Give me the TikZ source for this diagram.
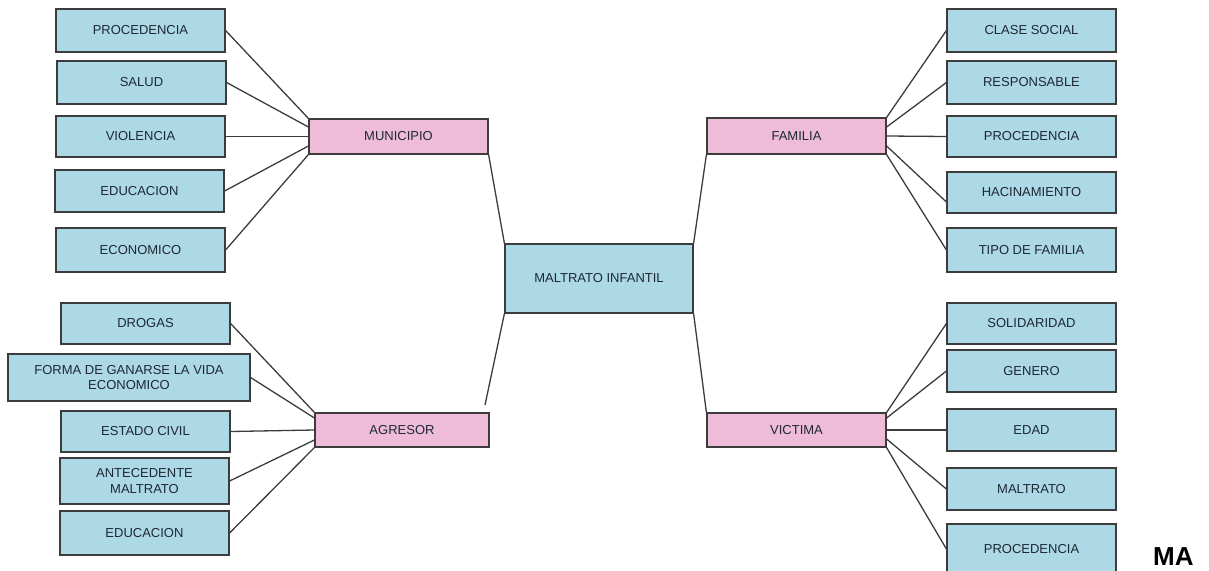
\documentclass[tikz,border=0pt]{standalone}
\usepackage{fontspec}
\setmainfont{Liberation Sans}
\definecolor{boxblue}{RGB}{173,216,230}
\definecolor{boxpink}{RGB}{238,187,216}
\definecolor{edge}{RGB}{60,60,60}
\definecolor{txt}{RGB}{30,40,52}
\tikzset{
  base/.style={draw=edge, line width=1.2pt, inner sep=0pt, align=center, text=txt,
    font=\fontsize{13}{15.5}\selectfont},
  bluebox/.style={base, fill=boxblue},
  pinkbox/.style={base, fill=boxpink},
  link/.style={draw=edge, line width=1.3pt},
}
\begin{document}
\begin{tikzpicture}[x=1pt,y=-1pt]
\useasboundingbox (0,0) rectangle (1209,570);
% left top
\node[bluebox, minimum width=169pt, minimum height=43pt] (lproc) at (140.5,30.5) {PROCEDENCIA};
\node[bluebox, minimum width=169pt, minimum height=43pt] (lsalud) at (141.5,82.5) {SALUD};
\node[bluebox, minimum width=169pt, minimum height=41pt] (lviol) at (140.5,136.5) {VIOLENCIA};
\node[bluebox, minimum width=169pt, minimum height=42pt] (ledu) at (139.5,191) {EDUCACION};
\node[bluebox, minimum width=169pt, minimum height=44pt] (lecon) at (140.5,250) {ECONOMICO};
\node[pinkbox, minimum width=179pt, minimum height=35pt] (mun) at (398.5,136.5) {MUNICIPIO};
% left bottom
\node[bluebox, minimum width=169pt, minimum height=41pt] (drog) at (145.5,323.5) {DROGAS};
\node[bluebox, minimum width=242pt, minimum height=47pt] (forma) at (129,377.5) {FORMA DE GANARSE LA VIDA\\ECONOMICO};
\node[bluebox, minimum width=169pt, minimum height=41pt] (estado) at (145.5,431.5) {ESTADO CIVIL};
\node[bluebox, minimum width=169pt, minimum height=46pt] (ante) at (144.5,481) {ANTECEDENTE\\MALTRATO};
\node[bluebox, minimum width=169pt, minimum height=44pt] (bedu) at (144.5,533) {EDUCACION};
\node[pinkbox, minimum width=174pt, minimum height=34pt] (agr) at (402,430) {AGRESOR};
% center
\node[bluebox, minimum width=188pt, minimum height=69pt] (mi) at (599,278.5) {MALTRATO INFANTIL};
% right top
\node[pinkbox, minimum width=179pt, minimum height=36pt] (fam) at (796.5,136) {FAMILIA};
\node[bluebox, minimum width=169pt, minimum height=43pt] (clase) at (1031.5,30.5) {CLASE SOCIAL};
\node[bluebox, minimum width=169pt, minimum height=43pt] (resp) at (1031.5,82.5) {RESPONSABLE};
\node[bluebox, minimum width=169pt, minimum height=41pt] (rproc) at (1031.5,136.5) {PROCEDENCIA};
\node[bluebox, minimum width=169pt, minimum height=41pt] (hac) at (1031.5,192.5) {HACINAMIENTO};
\node[bluebox, minimum width=169pt, minimum height=44pt] (tipo) at (1031.5,250) {TIPO DE FAMILIA};
% right bottom
\node[pinkbox, minimum width=179pt, minimum height=34pt] (vic) at (796.5,430) {VICTIMA};
\node[bluebox, minimum width=169pt, minimum height=41pt] (sol) at (1031.5,323.5) {SOLIDARIDAD};
\node[bluebox, minimum width=169pt, minimum height=42pt] (gen) at (1031.5,371) {GENERO};
\node[bluebox, minimum width=169pt, minimum height=42pt] (edad) at (1031.5,430) {EDAD};
\node[bluebox, minimum width=169pt, minimum height=42pt] (malt) at (1031.5,489) {MALTRATO};
\node[bluebox, minimum width=169pt, minimum height=50pt] (bproc) at (1031.5,549) {PROCEDENCIA};
% MA text
\node[anchor=base west, inner sep=0pt, font=\fontsize{26}{28}\selectfont\bfseries, text=black] (ma) at (1153,565) {MA};
% connectors municipio
\draw[link] (lproc.east) -- (mun.north west);
\draw[link] (lsalud.east) -- ([yshift=9.5pt]mun.west);
\draw[link] (lviol.east) -- (mun.west);
\draw[link] (ledu.east) -- ([yshift=-9.5pt]mun.west);
\draw[link] (lecon.east) -- (mun.south west);
% connectors agresor
\draw[link] (drog.east) -- (agr.north west);
\draw[link] (forma.east) -- ([yshift=12pt]agr.west);
\draw[link] (estado.east) -- (agr.west);
\draw[link] (ante.east) -- ([yshift=-10pt]agr.west);
\draw[link] (bedu.east) -- (agr.south west);
% connectors familia
\draw[link] (fam.north east) -- (clase.west);
\draw[link] ([yshift=9pt]fam.east) -- (resp.west);
\draw[link] (fam.east) -- (rproc.west);
\draw[link] ([yshift=-10pt]fam.east) -- ([yshift=-9.5pt]hac.west);
\draw[link] (fam.south east) -- (tipo.west);
% connectors victima
\draw[link] (vic.north east) -- (sol.west);
\draw[link] ([yshift=12pt]vic.east) -- (gen.west);
\draw[link] (vic.east) -- (edad.west);
\draw[link] ([yshift=-9pt]vic.east) -- (malt.west);
\draw[link] (vic.south east) -- (bproc.west);
% center connectors
\coordinate (agrend) at (485,405);
\draw[link] (mun.south east) -- (mi.north west);
\draw[link] (fam.south west) -- (mi.north east);
\draw[link] (mi.south west) -- (agrend);
\draw[link] (mi.south east) -- (vic.north west);
\end{tikzpicture}
\end{document}
